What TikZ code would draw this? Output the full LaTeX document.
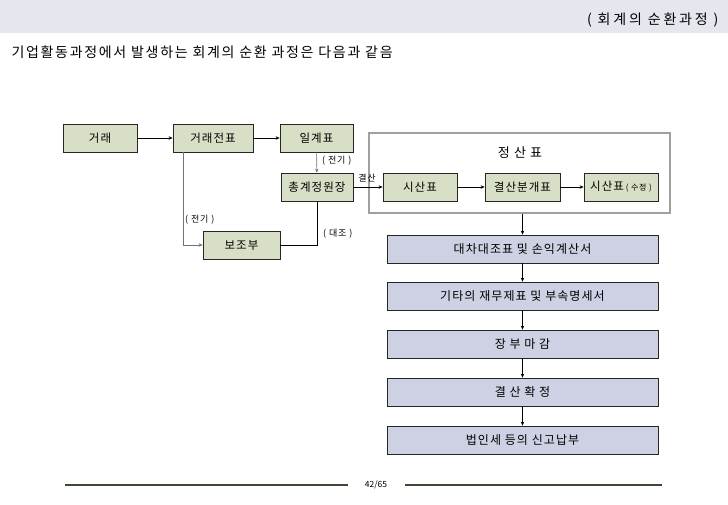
\documentclass[tikz,border=0pt]{standalone}
\usepackage{fontspec}
\setmainfont{Noto Sans CJK KR}
\newfontfamily\wideT{Noto Sans CJK KR}[LetterSpace=20]
\newfontfamily\wideI{Noto Sans CJK KR}[LetterSpace=12]
\newfontfamily\wideB{Noto Sans CJK KR}[LetterSpace=9]
\usetikzlibrary{arrows.meta}
\definecolor{bandc}{HTML}{E6E6EE}
\definecolor{greenc}{HTML}{D7DFC6}
\definecolor{bluec}{HTML}{CDD1E3}
\definecolor{framec}{HTML}{A0A0A0}
\definecolor{footc}{HTML}{3A4A34}
\tikzset{
  gbox/.style={draw=black!85, line width=0.8pt, fill=greenc, minimum height=28pt, inner sep=0pt, font=\wideB\fontsize{11.5}{12}\selectfont},
  bbox/.style={draw=black!85, line width=0.8pt, fill=bluec, minimum width=271pt, minimum height=28pt, inner sep=0pt, font=\wideB\fontsize{12}{13}\selectfont},
  conn/.style={line width=0.6pt, -{Stealth[length=4pt,width=3.5pt]}},
  lbl/.style={font=\wideB\fontsize{9}{10}\selectfont, inner sep=1pt}
}
\begin{document}
\begin{tikzpicture}[x=1pt,y=-1pt]
\useasboundingbox (0,0) rectangle (728,504);
\fill[bandc] (0,0) rectangle (728,33);
\node[anchor=east, font=\wideT\fontsize{14}{15}\selectfont] (title) at (722,20) {( 회계의 순환과정 )};
\node[anchor=west, font=\wideI\fontsize{14}{15}\selectfont] (intro) at (8,52) {기업활동과정에서 발생하는 회계의 순환 과정은 다음과 같음};

% left boxes
\node[gbox, minimum width=74pt] (gr) at (100,138) {거래};
\node[gbox, minimum width=80pt] (grj) at (213,138) {거래전표};
\node[gbox, minimum width=73pt] (il) at (316.5,138) {일계표};
\node[gbox, minimum width=72pt] (ch) at (317,187) {총계정원장};
\node[gbox, minimum width=77pt] (bo) at (241.5,245) {보조부};

% settlement frame
\node[draw=framec, line width=1.6pt, minimum width=301pt, minimum height=80pt, inner sep=0pt] (frame) at (519.5,173) {};
\node[font=\wideB\fontsize{13}{14}\selectfont] (frt) at (520,153) {정 산 표};
\node[gbox, minimum width=74pt] (si) at (420,187) {시산표};
\node[gbox, minimum width=75pt] (gb) at (522.5,187) {결산분개표};
\node[gbox, minimum width=74pt] (sis) at (621,187) {시산표\,{\fontsize{8}{9}\selectfont( 수정 )}};

% blue boxes
\node[bbox] (b1) at (522.5,249) {대차대조표 및 손익계산서};
\node[bbox] (b2) at (522.5,296) {기타의 재무제표 및 부속명세서};
\node[bbox] (b3) at (522.5,344) {장 부 마 감};
\node[bbox] (b4) at (522.5,392) {결 산 확 정};
\node[bbox] (b5) at (522.5,440) {법인세 등의 신고납부};

% connectors
\draw[conn] (gr) -- (grj);
\draw[conn] (grj) -- (il);
\draw[conn, draw=black!55] (il) -- (ch);
\node[lbl, anchor=west] (l1) at (321,161) {( 전기 )};
\draw[conn, draw=black!55] (grj.south -| 183,0) |- (bo.west);
\node[lbl, anchor=west] (l2) at (184,220) {( 전기 )};
\draw[line width=0.6pt] (bo.east) -| (ch.south);
\node[lbl, anchor=west] (l3) at (322,234) {( 대조 )};
\draw[conn] (ch) -- (si);
\node[lbl] (l4) at (367,178) {결산};
\draw[conn] (si) -- (gb);
\draw[conn] (gb) -- (sis);
\draw[conn] (frame.south -| b1.north) -- (b1.north);
\draw[conn] (b1) -- (b2);
\draw[conn] (b2) -- (b3);
\draw[conn] (b3) -- (b4);
\draw[conn] (b4) -- (b5);

% footer
\coordinate (fa) at (65,485);
\coordinate (fb) at (348,485);
\coordinate (fc) at (405,485);
\coordinate (fd) at (662,485);
\draw[footc, line width=2.6pt] (fa) -- (fb);
\draw[footc, line width=2.6pt] (fc) -- (fd);
\node[font=\fontsize{8.5}{9}\selectfont] (pg) at (376,485) {42/65};
\end{tikzpicture}
\end{document}
